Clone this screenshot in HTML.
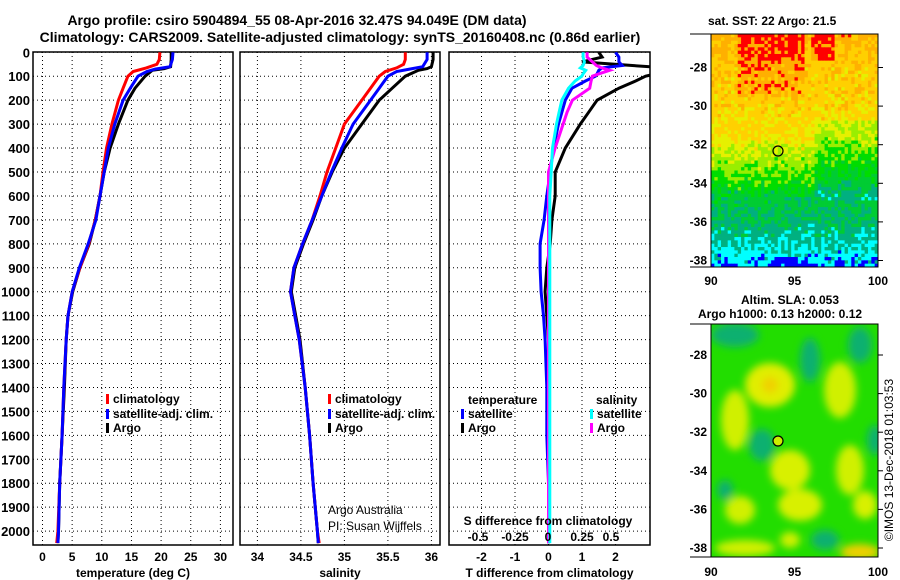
<!DOCTYPE html>
<html><head><meta charset="utf-8">
<style>
body{margin:0;background:#fff;}
svg{display:block;font-family:"Liberation Sans",Arial,sans-serif;}
.t{font-weight:bold;font-size:12px;}
.ty{font-weight:bold;font-size:13px;}
.ti{font-weight:bold;font-size:14px;}
</style></head>
<body>
<svg id="chart" width="900" height="580" viewBox="0 0 900 580" xmlns="http://www.w3.org/2000/svg">
<defs>
<filter id="blur" x="-50%" y="-50%" width="200%" height="200%"><feGaussianBlur stdDeviation="4"/></filter>
<clipPath id="clip1"><rect x="33" y="52" width="200" height="493"/></clipPath>
<clipPath id="clip2"><rect x="240" y="52" width="200" height="493"/></clipPath>
<clipPath id="clip3"><rect x="449" y="52" width="201" height="493"/></clipPath>
<clipPath id="clipm2"><rect x="711" y="324" width="167" height="233"/></clipPath>
</defs>
<text class="ti" x="297" y="25" text-anchor="middle">Argo profile: csiro 5904894_55 08-Apr-2016 32.47S 94.049E (DM data)</text>
<text class="ti" x="340" y="42" text-anchor="middle">Climatology: CARS2009. Satellite-adjusted climatology: synTS_20160408.nc (0.86d earlier)</text>
<g id="g1"></g>
<g id="g2"></g>
<g id="g3"></g>
<g id="m1"></g>
<g id="m2"></g>
<text x="893" y="460" font-size="12" text-anchor="middle" transform="rotate(-90 893 460)">©IMOS 13-Dec-2018 01:03:53</text>
</svg>
<script>
const NS="http://www.w3.org/2000/svg";
// ---- data ----
const depthTicks=[0,100,200,300,400,500,600,700,800,900,1000,1100,1200,1300,1400,1500,1600,1700,1800,1900,2000];
const tempTicks=[0,5,10,15,20,25,30];
const salTicks=[34,34.5,35,35.5,36];
const tdTicks=[-2,-1,0,1,2];
const sdTickLabels=["-0.5","-0.25","0","0.25","0.5"];

const argoDepth=[0,30,60,68,75,100,150,200,300,400,500,600,700,800,900,1000,1100,1200,1400,1600,1800,2000,2050];
const argoT=[21.7,21.7,21.6,20.5,18.5,17.3,15.6,14.4,12.8,11.4,10.4,9.7,8.9,7.9,6.3,5.1,4.3,4.0,3.7,3.3,2.9,2.7,2.6];
const argoS=[36.02,36.02,36.0,35.95,35.85,35.7,35.55,35.4,35.2,35.0,34.86,34.74,34.64,34.53,34.43,34.39,34.44,34.49,34.55,34.6,34.64,34.69,34.7];

const climDepth=[0,30,50,65,80,100,150,200,300,400,500,600,700,800,900,1000,1100,1200,1400,1600,1800,2000,2050];
const climT=[19.8,19.7,19.3,17.5,15.3,14.4,13.6,12.8,11.7,10.8,10.2,9.7,8.9,7.8,6.3,5.0,4.3,4.0,3.6,3.3,2.9,2.6,2.4];
const climS=[35.7,35.7,35.68,35.6,35.47,35.4,35.3,35.2,35.0,34.9,34.8,34.72,34.63,34.52,34.42,34.38,34.43,34.48,34.55,34.6,34.64,34.69,34.71];

const satDepth=[0,30,60,70,80,100,150,200,300,400,500,600,700,800,900,1000,1100,1200,1400,1600,1800,2000,2050];
const satT=[22.0,21.9,21.5,19.0,17.6,16.1,14.8,13.6,12.2,11.1,10.4,9.7,9.0,7.7,6.2,5.0,4.3,4.0,3.6,3.3,2.9,2.7,2.6];
const satS=[35.95,35.95,35.9,35.75,35.6,35.5,35.4,35.3,35.1,34.97,34.85,34.74,34.63,34.52,34.42,34.38,34.43,34.48,34.55,34.6,34.64,34.69,34.7];

const diffDepth=[0,20,40,55,65,75,90,100,120,150,200,250,300,400,500,600,700,800,900,1000,1100,1200,1400,1600,1800,2000,2050];
const dTargo=[1.5,1.6,1.0,2.5,3.5,3.5,3.2,2.9,2.6,2.1,1.45,1.2,0.95,0.5,0.2,0.2,0.1,0.05,-0.05,-0.1,-0.05,0,0,0,0,0,0];
const dTsat=[2.0,2.1,2.1,2.2,1.6,1.5,1.45,1.4,1.1,0.7,0.5,0.4,0.3,0.15,0.05,-0.05,-0.13,-0.25,-0.25,-0.22,-0.15,-0.1,-0.05,-0.05,0,0,0];
const dSargo=[0.29,0.29,0.33,0.36,0.4,0.46,0.38,0.33,0.32,0.31,0.18,0.14,0.11,0.05,0.0,0.0,0.0,0.0,0.0,0.0,0.0,0.0,0.0,0.0,0.0,0.0,0.0];
const dSsat=[0.26,0.26,0.27,0.26,0.24,0.28,0.26,0.25,0.2,0.15,0.1,0.08,0.06,0.03,0.02,0.01,0.01,0.01,0.01,0.01,0.01,0.01,0.01,0.01,0.01,0.01,0.01];

// ---- axes ----
const yD=d=>52.3+d*0.2394;
const xT=t=>42.5+t*5.93;
const xS=s=>257.4+(s-34)*87;
const xTd=d=>548.5+d*33.5;
const xSd=d=>548.5+d*133;

function el(tag,attrs,parent,txt){const e=document.createElementNS(NS,tag);for(const k in attrs)e.setAttribute(k,attrs[k]);if(txt!==undefined)e.textContent=txt;parent.appendChild(e);return e;}

function panel(g,x0,x1,xticks,xfun,labels,title){
  const top=52,bot=545;
  depthTicks.forEach(d=>{const l=el('line',{x1:x0,x2:x1,y1:yD(d),y2:yD(d),stroke:'#000','stroke-dasharray':'1,3','stroke-width':1},g);
    
    });
  xticks.forEach((v,i)=>{const x=xfun(v);const l=el('line',{x1:x,x2:x,y1:top,y2:bot,stroke:'#000','stroke-dasharray':'1,3','stroke-width':1},g);
    
    
    const t=el('text',{x:x,y:561,'text-anchor':'middle',class:'t'},g,labels[i]);
    
    });
  const r=el('rect',{x:x0,y:top,width:x1-x0,height:bot-top,fill:'none',stroke:'#000','stroke-width':1.5},g);
  
  
  const tt=el('text',{x:(x0+x1)/2,y:577,'text-anchor':'middle',class:'t'},g,title);
  
  
}
function line(g,xs,ds,fx,color,name,clip){
  const pts=xs.map((v,i)=>fx(v).toFixed(1)+','+yD(ds[i]).toFixed(1)).join(' ');
  const p=el('polyline',{points:pts,fill:'none',stroke:color,'stroke-width':3,'clip-path':'url(#'+clip+')'},g);
  
  
}
function legend(g,x,y,color,text,name){
  const r=el('rect',{x:x,y:y-9,width:3,height:10,fill:color},g);
  
  
  const t=el('text',{x:x+7,y:y,class:'t'},g,text);
  
  
}
const g1=document.getElementById('g1'),g2=document.getElementById('g2'),g3=document.getElementById('g3');
panel(g1,33,233,tempTicks,xT,tempTicks.map(String),'temperature (deg C)');
depthTicks.forEach(d=>{const t=el('text',{x:30,y:yD(d)+5,'text-anchor':'end',class:'ty'},g1,String(d));
  
  });
line(g1,argoT,argoDepth,xT,'#000','argo-temperature-line','clip1');
line(g1,climT,climDepth,xT,'#f00','clim-temperature-line','clip1');
line(g1,satT,satDepth,xT,'#00f','sat-temperature-line','clip1');
legend(g1,106,403,'#f00','climatology','legend-climatology');
legend(g1,106,418,'#00f','satellite-adj. clim.','legend-satellite');
legend(g1,106,432,'#000','Argo','legend-argo');

panel(g2,240,440,salTicks,xS,['34','34.5','35','35.5','36'],'salinity');
line(g2,argoS,argoDepth,xS,'#000','argo-salinity-line','clip2');
line(g2,climS,climDepth,xS,'#f00','clim-salinity-line','clip2');
line(g2,satS,satDepth,xS,'#00f','sat-salinity-line','clip2');
legend(g2,328,403,'#f00','climatology','legend-climatology-2');
legend(g2,328,418,'#00f','satellite-adj. clim.','legend-satellite-2');
legend(g2,328,432,'#000','Argo','legend-argo-2');
el('text',{x:328,y:514,'font-size':12},g2,'Argo Australia');
el('text',{x:328,y:530,'font-size':12},g2,'PI: Susan Wijffels');

panel(g3,449,650,tdTicks,xTd,tdTicks.map(String),'T difference from climatology');
line(g3,dTargo,diffDepth,xTd,'#000','argo-t-diff-line','clip3');
line(g3,dTsat,diffDepth,xTd,'#00f','sat-t-diff-line','clip3');
line(g3,dSargo,diffDepth,xSd,'#f0f','argo-s-diff-line','clip3');
line(g3,dSsat,diffDepth,xSd,'#0ff','sat-s-diff-line','clip3');
el('text',{x:468,y:404,class:'t'},g3,'temperature');
el('text',{x:596,y:404,class:'t'},g3,'salinity');
legend(g3,461,418,'#00f','satellite','legend-t-satellite');
legend(g3,461,432,'#000','Argo','legend-t-argo');
legend(g3,590,418,'#0ff','satellite','legend-s-satellite');
legend(g3,590,432,'#f0f','Argo','legend-s-argo');
el('text',{x:548,y:525,'text-anchor':'middle',class:'t'},g3,'S difference from climatology');
sdTickLabels.forEach((s,i)=>{const t=el('text',{x:[478,515,548,582,611][i],y:541,'text-anchor':'middle',class:'t'},g3,s);
  
  });

// ---- maps ----
const m1=document.getElementById('m1'),m2=document.getElementById('m2');
const latY1=lat=>67.5+(-28-lat)*19.3;
const latY2=lat=>355+(-28-lat)*19.3;
const lonX=lon=>711+(lon-90)*16.7;
const cols=['#0000ff','#00ffff','#00b080','#00cc33','#00dd00','#99ee00','#e6f000','#ffd000','#ffb000','#ff0000'];
function hash(i,j){let h=(i*374761393+j*668265263)>>>0;h=((h^(h>>>13))*1274126177)>>>0;return ((h^(h>>>16))%1000)/1000;}
const cw=167/50,ch=233/70;
for(let j=0;j<70;j++){for(let i=0;i<50;i++){
  const y=34+j*ch, x=711+i*cw;
  let L;
  if(y<80)L=8.2-(y-34)/46*0.9; else if(y<130)L=7.6-(y-80)/50*0.6; else if(y<190)L=7.0-(y-130)/60*3.0; else if(y<230)L=3.6-(y-190)/40*1.2; else L=2.4-(y-230)/37*1.4;
  if(y<95 && i>=8 && i<=27) L+=1.3-(y-34)/61*0.6;
  if(y<60 && i>=30 && i<=36) L+=1.2;
  L+= (i>30 && y>120 && y<200)? -1.0:0;
  L+= (y>255 && i>=18 && i<=28)? -0.8:0;
  L+=(hash(i,j)-0.5)*0.8;
  let k=Math.max(0,Math.min(9,Math.floor(L+0.5)));
  el('rect',{x:x.toFixed(2),y:y.toFixed(2),width:(cw+0.4).toFixed(2),height:(ch+0.4).toFixed(2),fill:cols[k]},m1);
}}
el('rect',{x:711,y:34,width:167,height:233,fill:'none',stroke:'#000'},m1);
el('line',{x1:690,x2:711,y1:34,y2:34,stroke:'#000'},m1);
el('line',{x1:690,x2:711,y1:267,y2:267,stroke:'#000'},m1);
el('circle',{cx:778,cy:151,r:5,fill:'none',stroke:'#000','stroke-width':1.2},m1);
el('text',{x:708,y:25,class:'t'},m1,'sat. SST: 22 Argo: 21.5');
[-28,-30,-32,-34,-36,-38].forEach(lat=>{el('text',{x:707,y:latY1(lat)+4,'text-anchor':'end',class:'t'},m1,String(lat));
  el('line',{x1:878,x2:883,y1:latY1(lat),y2:latY1(lat),stroke:'#000'},m1);
  el('text',{x:707,y:latY2(lat)+4,'text-anchor':'end',class:'t'},m2,String(lat));
  el('line',{x1:878,x2:883,y1:latY2(lat),y2:latY2(lat),stroke:'#000'},m2);});
[90,95,100].forEach(l=>{el('text',{x:lonX(l),y:285,'text-anchor':'middle',class:'t'},m1,String(l));
  el('text',{x:lonX(l),y:576,'text-anchor':'middle',class:'t'},m2,String(l));});

el('rect',{x:711,y:324,width:167,height:233,fill:'#22dd00'},m2);
const blobs=[[735,335,'#10b070',24,12],[810,360,'#10b070',10,22],[860,345,'#10b070',12,18],[770,385,'#e0ee00',25,22],[770,385,'#f0d000',8,8],[735,420,'#d0f000',14,30],[840,390,'#d0f000',16,28],[790,470,'#d8f000',20,20],[850,470,'#d0f000',14,25],[740,510,'#d0f000',15,14],[800,505,'#d8f000',22,16],[865,505,'#d8f000',12,14],[762,445,'#10b070',13,16],[875,440,'#10b070',8,15],[725,490,'#10b070',8,10],[825,540,'#10b070',14,10],[860,552,'#f0d000',20,8],[745,548,'#d0f000',30,8],[790,540,'#d0f000',10,8]];
const bg=el('g',{filter:'url(#blur)','clip-path':'url(#clipm2)'},m2);
blobs.forEach(b=>el('ellipse',{cx:b[0],cy:b[1],rx:b[3],ry:b[4],fill:b[2]},bg));
el('rect',{x:711,y:324,width:167,height:233,fill:'none',stroke:'#000'},m2);
el('line',{x1:690,x2:711,y1:324,y2:324,stroke:'#000'},m2);
el('line',{x1:690,x2:711,y1:557,y2:557,stroke:'#000'},m2);
el('circle',{cx:778,cy:441,r:5,fill:'#ccee00',stroke:'#000','stroke-width':1.2},m2);
el('text',{x:790,y:304,'text-anchor':'middle',class:'t'},m2,'Altim. SLA: 0.053');
el('text',{x:780,y:318,'text-anchor':'middle',class:'t'},m2,'Argo h1000: 0.13 h2000: 0.12');
</script>
</body></html>
